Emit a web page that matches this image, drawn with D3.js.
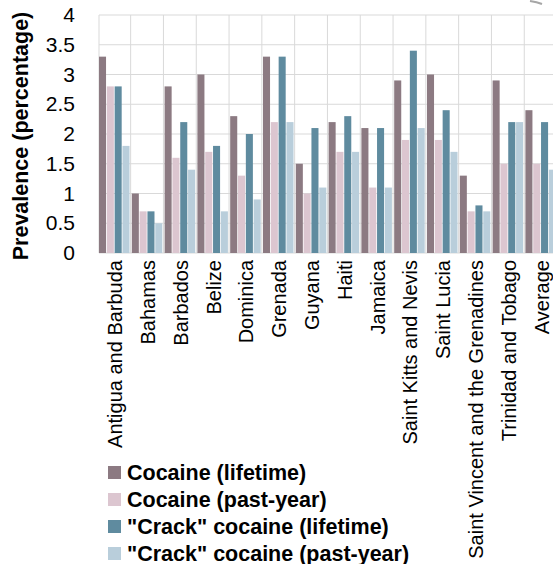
<!DOCTYPE html>
<html><head><meta charset="utf-8">
<script src="https://cdn.jsdelivr.net/npm/d3@7"></script>
<style>body{margin:0;background:#fff;overflow:hidden}svg{display:block}</style>
</head><body>
<script>
const categories = ["Antigua and Barbuda","Bahamas","Barbados","Belize","Dominica","Grenada","Guyana","Haiti","Jamaica","Saint Kitts and Nevis","Saint Lucia","Saint Vincent and the Grenadines","Trinidad and Tobago","Average"];
const seriesNames = ["Cocaine (lifetime)","Cocaine (past-year)","\"Crack\" cocaine (lifetime)","\"Crack\" cocaine (past-year)"];
const cocaineLifetime = [3.3,1.0,2.8,3.0,2.3,3.3,1.5,2.2,2.1,2.9,3.0,1.3,2.9,2.4];
const cocainePastYear = [2.8,0.7,1.6,1.7,1.3,2.2,1.0,1.7,1.1,1.9,1.9,0.7,1.5,1.5];
const crackLifetime   = [2.8,0.7,2.2,1.8,2.0,3.3,2.1,2.3,2.1,3.4,2.4,0.8,2.2,2.2];
const crackPastYear   = [1.8,0.5,1.4,0.7,0.9,2.2,1.1,1.7,1.1,2.1,1.7,0.7,2.2,1.4];
const yTicks = [0,0.5,1,1.5,2,2.5,3,3.5,4];
const colors = ["#8c7a82","#dcc6d0","#5f8b9f","#b9cedb"];
const seriesValues = [cocaineLifetime,cocainePastYear,crackLifetime,crackPastYear];

const W=553,H=564;
const svg=d3.select("body").append("svg").attr("width",W).attr("height",H);
const mLeft=99, mTop=15, mBottom=253;
const pi=0.07;
const x0=d3.scaleBand().domain(categories).range([mLeft,mLeft+32.8*(14-pi)]).paddingInner(pi).paddingOuter(0);
const x1=d3.scaleBand().domain(d3.range(4)).range([0,x0.bandwidth()]).paddingInner(0.1).paddingOuter(0);
const y=d3.scaleLinear().domain([0,4]).range([mBottom,mTop]);
const font="'Liberation Sans', Arial, sans-serif";

// grid
const g=svg.append("g");
g.selectAll("line.h").data(yTicks).join("line")
 .attr("x1",mLeft).attr("x2",W+10).attr("y1",d=>y(d)).attr("y2",d=>y(d))
 .attr("stroke","#d9d9d9").attr("stroke-width",1);
const bounds=categories.map(c=>x0(c)-x0.step()*pi/2).concat([x0(categories[13])+x0.bandwidth()+x0.step()*pi/2]);
bounds[0]=mLeft;
g.selectAll("line.v").data(bounds).join("line")
 .attr("x1",d=>d).attr("x2",d=>d).attr("y1",mTop).attr("y2",mBottom)
 .attr("stroke","#d9d9d9").attr("stroke-width",1);

// bars
categories.forEach((c,i)=>{
  seriesValues.forEach((vals,s)=>{
    svg.append("rect").attr("x",x0(c)+x1(s)).attr("width",x1.bandwidth())
      .attr("y",y(vals[i])).attr("height",y(0)-y(vals[i])).attr("fill",colors[s]);
  });
});

// y axis ticks
const ya=d3.axisLeft(y).tickValues(yTicks).tickSize(0).tickPadding(24).tickFormat(d=>String(d));
const yg=svg.append("g").attr("transform",`translate(${mLeft},0)`).call(ya);
yg.select(".domain").remove();
yg.selectAll("text").attr("font-family",font).attr("font-size",21).attr("fill","#000");

// y title
svg.append("text").attr("transform",`translate(28,136) rotate(-90)`).attr("text-anchor","middle")
 .attr("font-family",font).attr("font-weight","bold").attr("font-size",21.5).attr("fill","#000")
 .text("Prevalence (percentage)");

// x axis labels
const xa=d3.axisBottom(x0).tickSize(0).tickPadding(0);
const xg=svg.append("g").attr("transform",`translate(0,${mBottom})`).call(xa);
xg.select(".domain").remove();
xg.selectAll("text").attr("font-family",font).attr("font-size",20).attr("fill","#000")
 .attr("text-anchor","end").attr("dy","0.35em")
 .attr("transform","translate(1,7) rotate(-90)").attr("x",0).attr("y",0);

// legend
const lg=svg.append("g").attr("transform","translate(108,466)");
seriesNames.forEach((n,i)=>{
  lg.append("rect").attr("x",0).attr("y",i*27).attr("width",13).attr("height",13).attr("fill",colors[i]);
  lg.append("text").attr("x",19).attr("y",i*27+6.5).attr("dy","0.35em")
    .attr("font-family",font).attr("font-weight","bold").attr("font-size",21.5).attr("fill","#000").text(n);
});

// cropped decoration top-right
svg.append("path").attr("d","M530,1 Q537,2 542,4").attr("stroke","#a6a6a6").attr("stroke-width",2).attr("fill","none");
</script>
</body></html>
